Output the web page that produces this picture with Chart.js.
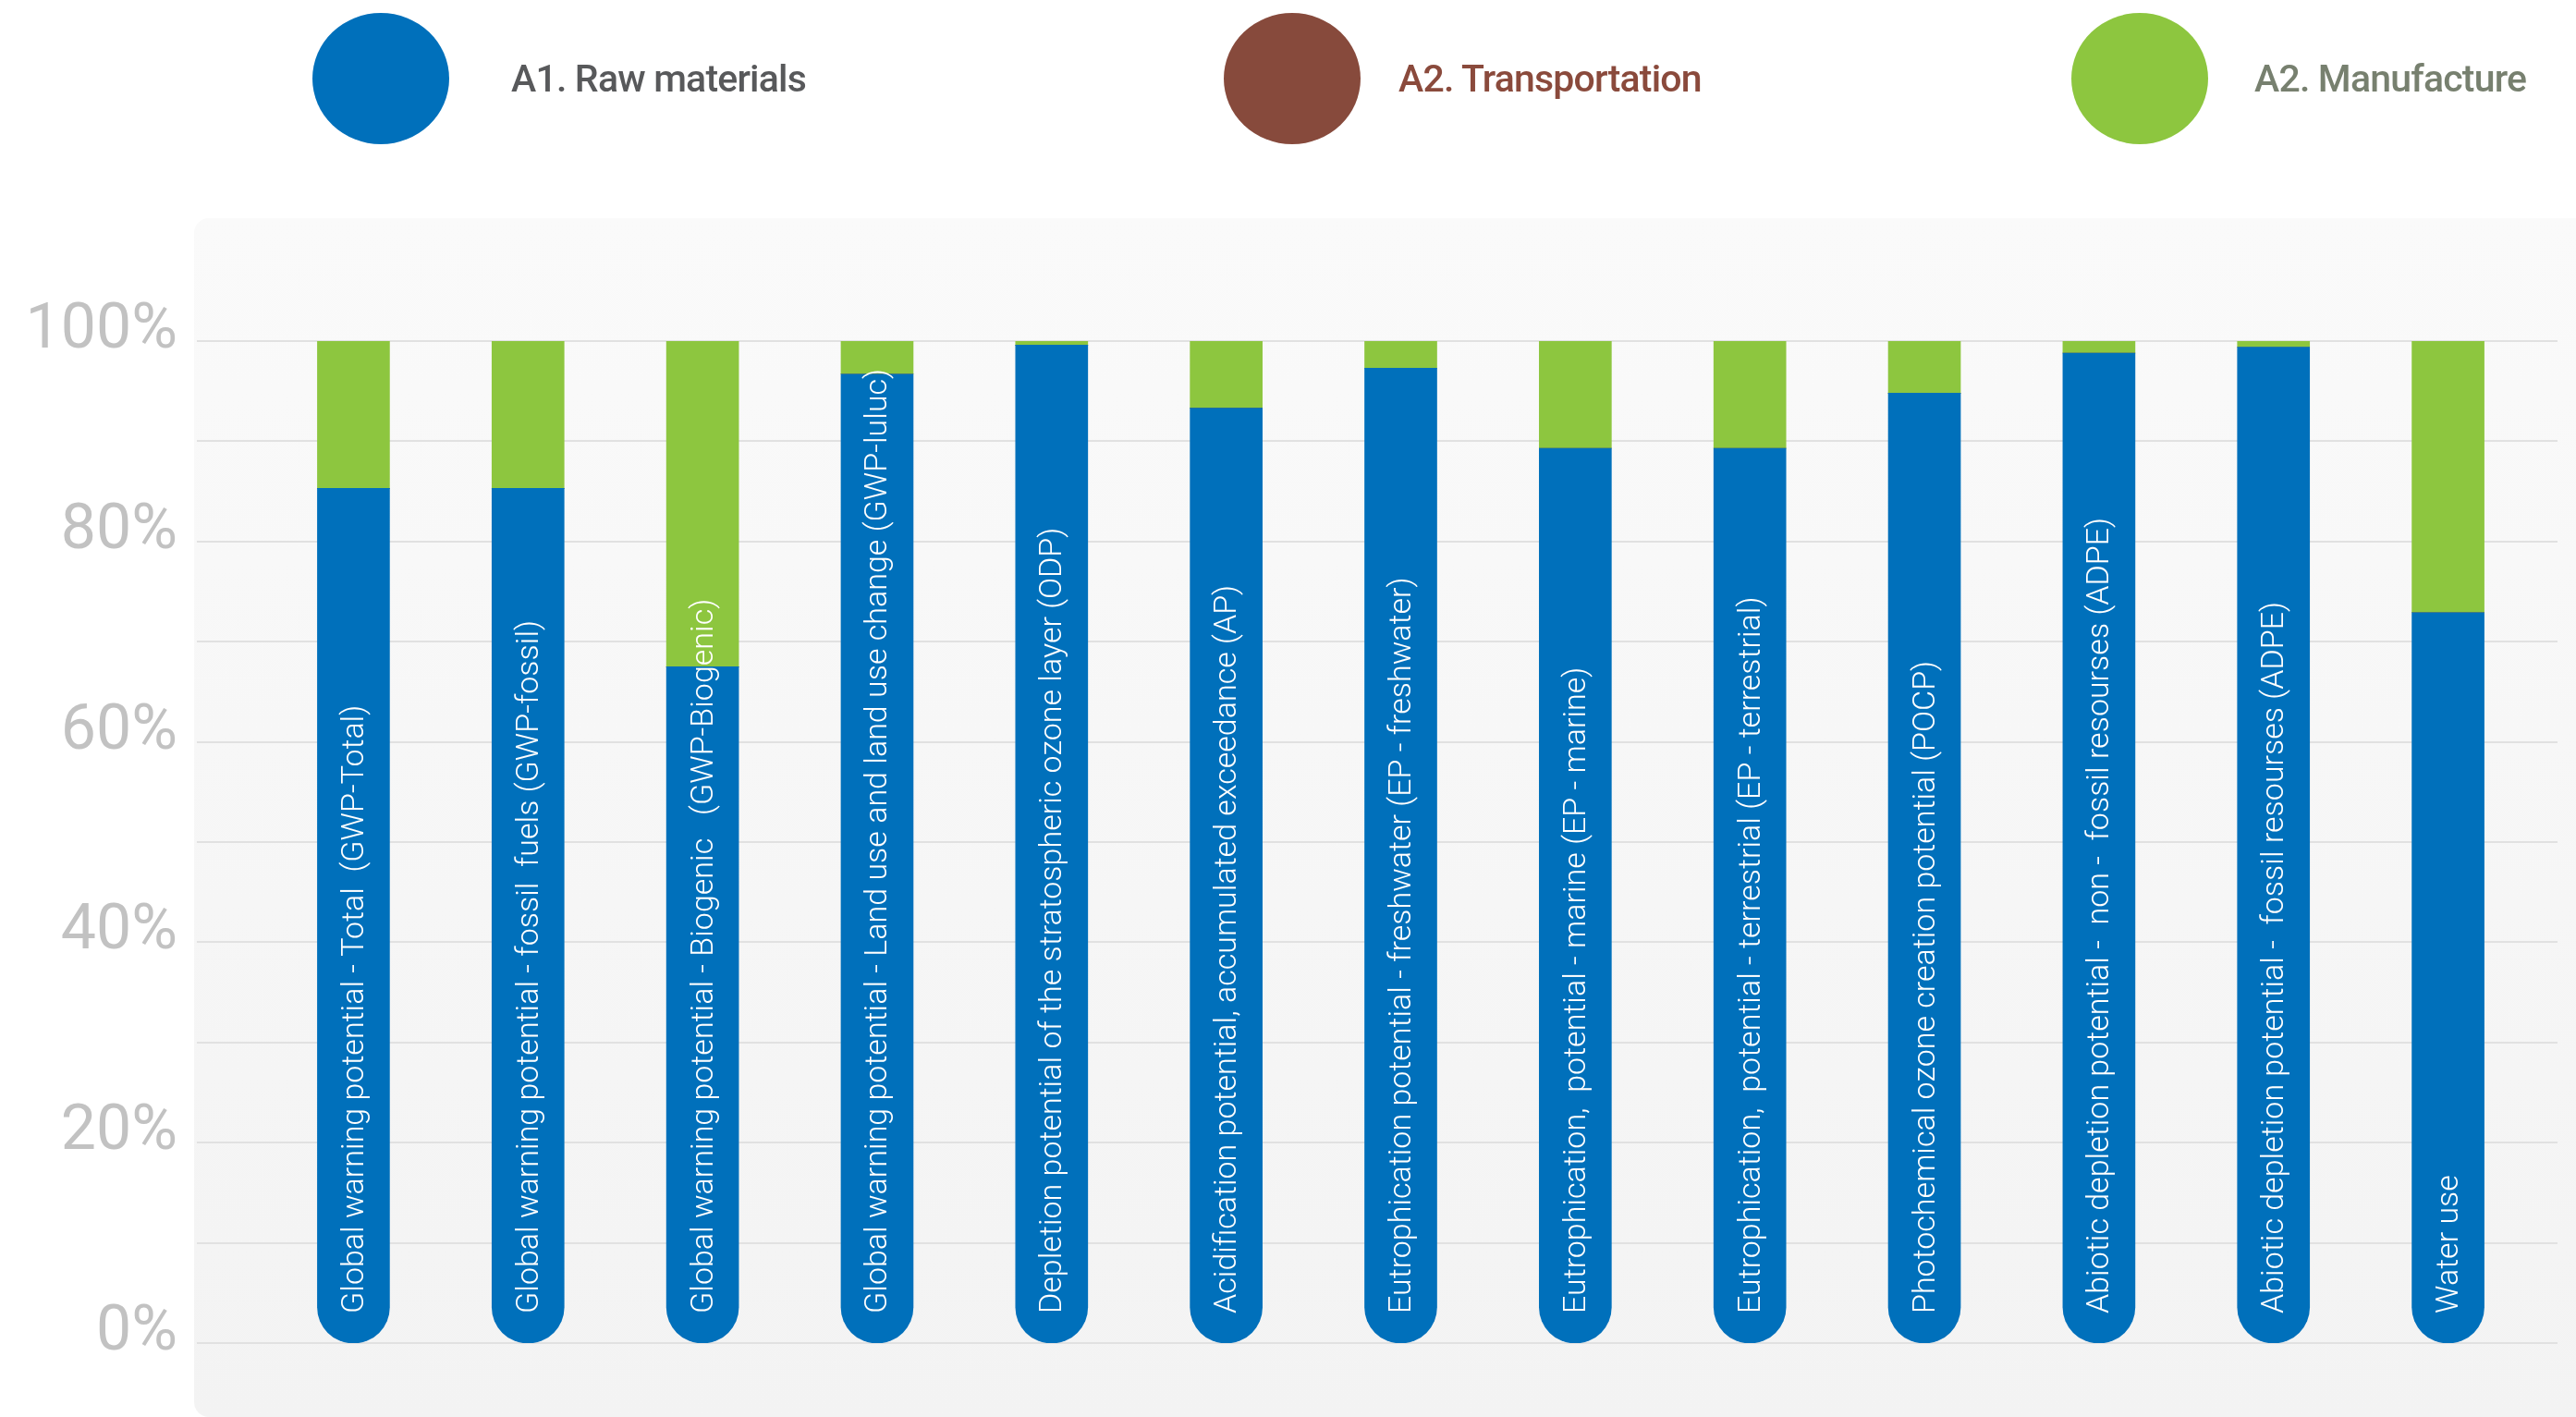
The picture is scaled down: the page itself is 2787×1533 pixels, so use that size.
<!DOCTYPE html>
<html>
<head>
<meta charset="utf-8">
<script src="https://cdn.jsdelivr.net/npm/chart.js@4"></script>
<style>
  html, body { margin: 0; padding: 0; background: #ffffff; width: 2787px; height: 1533px; overflow: hidden; }
  #plotBg { position: absolute; left: 210px; top: 236px; width: 2620px; height: 1297px; border-radius: 16px;
            background: linear-gradient(#fafafa, #f3f3f3); }
  #wrap { position: absolute; left: 0; top: 0; width: 2787px; height: 1533px; }
  #legend { position: absolute; left: 0; top: 0; width: 2787px; height: 170px; }
  .lg-item { position: absolute; top: 14px; height: 142px; }
  .lg-dot { position: absolute; left: 0; top: 0; width: 148px; height: 142px; border-radius: 50%; }
  .lg-text { position: absolute; top: 71px; transform: translateY(-50%); white-space: nowrap;
             font-family: Roboto, sans-serif; font-weight: 500; font-size: 41px; letter-spacing: -0.8px; }
</style>
</head>
<body>
<div id="plotBg"></div>
<div id="wrap"><canvas id="c"></canvas></div>
<div id="legend"></div>
<script>
const categories = [
  "Global warning potential - Total  (GWP-Total)",
  "Global warning potential - fossil  fuels (GWP-fossil)",
  "Global warning potential - Biogenic   (GWP-Biogenic)",
  "Global warning potential - Land use and land use change (GWP-luluc)",
  "Depletion potential of the stratospheric ozone layer (ODP)",
  "Acidification potential, accumulated exceedance (AP)",
  "Eutrophication potential - freshwater (EP - freshwater)",
  "Eutrophication,  potential - marine (EP - marine)",
  "Eutrophication,  potential - terrestrial (EP - terrestrial)",
  "Photochemical ozone creation potential (POCP)",
  "Abiotic depletion potential -  non -  fossil resourses (ADPE)",
  "Abiotic depletion potential -  fossil resourses (ADPE)",
  "Water use"
];
const seriesNames = ["A1. Raw materials", "A2. Transportation", "A2. Manufacture"];
const rawMaterials   = [85.3, 85.3, 67.5, 96.7, 99.6, 93.3, 97.3, 89.3, 89.3, 94.8, 98.8, 99.4, 72.9];
const transportation = [0, 0, 0, 0, 0, 0, 0, 0, 0, 0, 0, 0, 0];
const manufacture    = [14.7, 14.7, 32.5, 3.3, 0.4, 6.7, 2.7, 10.7, 10.7, 5.2, 1.2, 0.6, 27.1];
const yTickLabels = ["0%", "20%", "40%", "60%", "80%", "100%"];

const seriesColors = ["#0070bb", "#874a3c", "#8dc63f"];
const legendTextColors = ["#58595b", "#8a4a3c", "#77806f"];

const gridPlugin = {
  id: 'wideGrid',
  beforeDatasetsDraw(chart) {
    const y = chart.scales.y, ctx = chart.ctx;
    ctx.save();
    ctx.strokeStyle = '#e1e1e1';
    ctx.lineWidth = 2;
    y.ticks.forEach(t => {
      const py = Math.round(y.getPixelForValue(t.value));
      ctx.beginPath();
      ctx.moveTo(213, py);
      ctx.lineTo(2767, py);
      ctx.stroke();
    });
    ctx.restore();
  }
};

const barLabelPlugin = {
  id: 'barLabels',
  afterDatasetsDraw(chart) {
    const ctx = chart.ctx;
    const meta = chart.getDatasetMeta(0);
    const y0 = chart.scales.y.getPixelForValue(0);
    ctx.save();
    ctx.fillStyle = '#ffffff';
    ctx.font = '300 34px Roboto, sans-serif';
    ctx.textAlign = 'left';
    ctx.textBaseline = 'middle';
    meta.data.forEach((bar, i) => {
      ctx.save();
      ctx.translate(bar.x + 2, y0 - 32);
      ctx.rotate(-Math.PI / 2);
      ctx.fillText(chart.data.labels[i], 0, 0);
      ctx.restore();
    });
    ctx.restore();
  }
};

const chart = new Chart(document.getElementById('c'), {
  type: 'bar',
  data: {
    labels: categories,
    datasets: [
      { label: seriesNames[0], data: rawMaterials, backgroundColor: seriesColors[0],
        borderSkipped: false, borderWidth: 0,
        borderRadius: { topLeft: 0, topRight: 0, bottomLeft: 40, bottomRight: 40 } },
      { label: seriesNames[1], data: transportation, backgroundColor: seriesColors[1], borderWidth: 0 },
      { label: seriesNames[2], data: manufacture, backgroundColor: seriesColors[2], borderWidth: 0 }
    ]
  },
  options: {
    responsive: true,
    maintainAspectRatio: false,
    animation: false,
    layout: { padding: { left: 0, right: 44, top: 369, bottom: 80 } },
    plugins: { legend: { display: false }, tooltip: { enabled: false }, title: { display: false } },
    datasets: { bar: { barThickness: 78 } },
    scales: {
      x: { stacked: true, display: false, offset: true },
      y: {
        stacked: true, min: 0, max: 100,
        grid: { display: false, drawTicks: false },
        border: { display: false },
        afterFit(scale) { scale.width = 288; scale.paddingTop = 0; scale.paddingBottom = 0; },
        ticks: {
          stepSize: 10, autoSkip: false, padding: 96, labelOffset: -10,
          color: '#c2c2c2',
          font: { family: 'Roboto, sans-serif', size: 68, weight: 400 },
          callback: (v) => (v % 20 === 0 ? yTickLabels[v / 20] : '')
        }
      }
    }
  },
  plugins: [gridPlugin, barLabelPlugin]
});

// HTML legend built from the chart's datasets
const legendLeft = [338, 1324, 2241];
const textLeft = [215, 189, 198];
const legend = document.getElementById('legend');
chart.data.datasets.forEach((ds, i) => {
  const item = document.createElement('div');
  item.className = 'lg-item';
  item.style.left = legendLeft[i] + 'px';
  const dot = document.createElement('div');
  dot.className = 'lg-dot';
  dot.style.background = ds.backgroundColor;
  const txt = document.createElement('div');
  txt.className = 'lg-text';
  txt.style.left = textLeft[i] + 'px';
  txt.style.color = legendTextColors[i];
  txt.textContent = ds.label;
  item.appendChild(dot);
  item.appendChild(txt);
  legend.appendChild(item);
});
</script>
</body>
</html>
